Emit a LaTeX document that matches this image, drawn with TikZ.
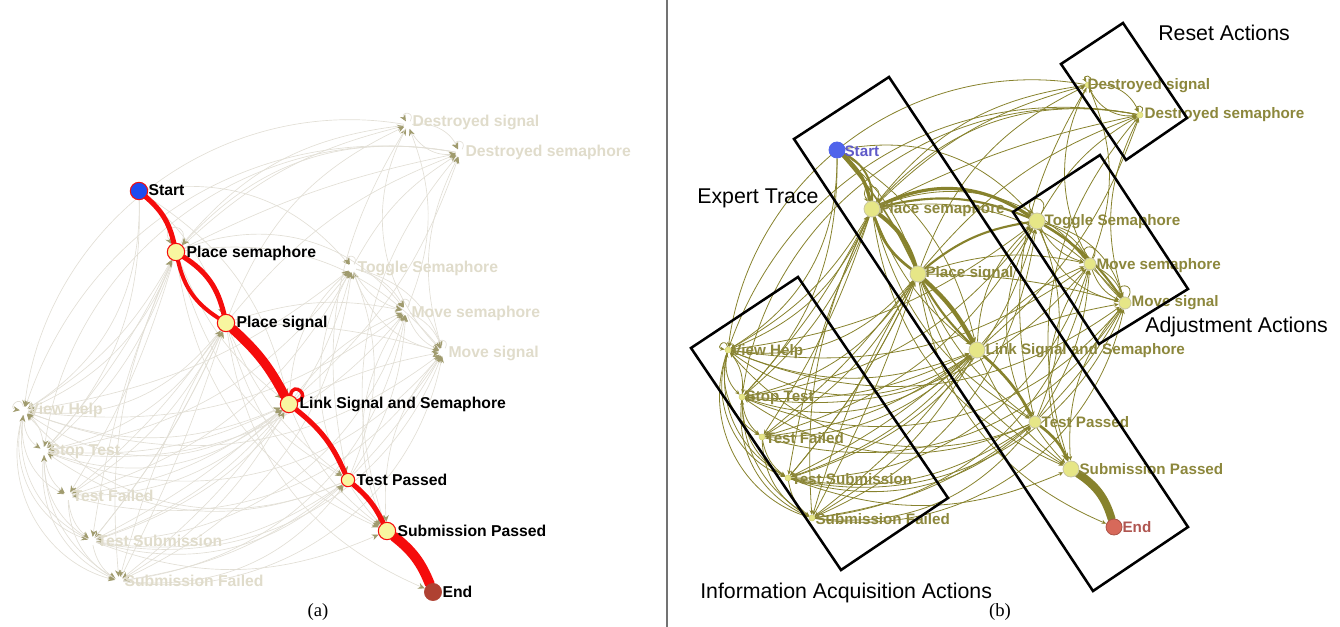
\documentclass[tikz,border=0pt]{standalone}
\usepackage{fontspec}
\setmainfont{Liberation Serif}
\newfontfamily\arialf{Liberation Sans}
\usetikzlibrary{arrows.meta}
\pgfdeclarelayer{bg}
\pgfsetlayers{bg,main}
\definecolor{oliveE}{RGB}{135,130,45}
\definecolor{oliveT}{RGB}{140,135,60}
\definecolor{nodeY}{RGB}{230,230,135}
\definecolor{nodeYL}{RGB}{248,246,160}
\definecolor{fadeE}{RGB}{226,223,214}
\definecolor{fadeT}{RGB}{224,220,203}
\definecolor{fadeA}{RGB}{160,155,110}
\definecolor{redP}{RGB}{245,12,12}
\definecolor{startB}{RGB}{30,75,240}
\definecolor{startBR}{RGB}{80,100,235}
\definecolor{startTR}{RGB}{95,90,200}
\definecolor{endL}{RGB}{175,65,50}
\definecolor{endR}{RGB}{215,105,90}
\definecolor{endTR}{RGB}{175,85,80}
\tikzset{
  ltext/.style={font=\arialf\bfseries\fontsize{11.8}{13}\selectfont, text=black, inner sep=1pt},
  lfade/.style={font=\arialf\bfseries\fontsize{11.8}{13}\selectfont, text=fadeT, inner sep=1pt},
  rtext/.style={font=\arialf\bfseries\fontsize{11.4}{13}\selectfont, text=oliveT, inner sep=1pt},
  gtext/.style={font=\arialf\fontsize{16}{18}\selectfont, text=black, inner sep=0pt},
  captext/.style={font=\fontsize{14}{16}\selectfont, inner sep=0pt},
  lmain/.style={circle, fill=nodeYL, draw=redP, line width=0.8pt, minimum size=13pt, inner sep=0pt},
  lsmall/.style={lmain, minimum size=10pt},
  lstart/.style={lmain, fill=startB},
  lend/.style={circle, fill=endL, draw=endL, minimum size=13pt, inner sep=0pt},
  lfaint/.style={circle, minimum size=6pt, inner sep=0pt},
  rmain/.style={circle, fill=nodeY, draw=oliveE!45, line width=0.6pt, minimum size=12pt, inner sep=0pt},
  rmid/.style={rmain, minimum size=9pt},
  rsmall/.style={circle, fill=nodeY, draw=nodeY!80!oliveE, line width=0.4pt, minimum size=4.5pt, inner sep=0pt},
  rstart/.style={rmain, fill=startBR, draw=startBR},
  rend/.style={rmain, fill=endR, draw=endR!80!black},
  boxst/.style={draw=black, line width=1.9pt, line join=miter},
}
\newcommand\graphedges[1]{%
  \foreach \u/\v/\b in {S/B/10, S/L/15, S/TG/20, S/VH/20, S/ST/15,
    A/L/-10, A/T/-15, A/MM/25, A/MG/20, A/DG/10, A/DM/5, A/VH/15, A/ST/10, A/TF/5, A/TU/-5, A/SF/-10, A/P/-20,
    B/T/-10, B/MM/10, B/MG/5, B/DM/10, B/DG/15, B/VH/20, B/ST/15, B/TF/10, B/TU/5, B/SF/-5, B/P/-15, B/E/-20,
    L/TG/15, L/MM/10, L/MG/5, L/DM/-10, L/VH/25, L/ST/20, L/TF/15, L/TU/10, L/SF/5, L/P/-10,
    T/TG/-15, T/MM/-10, T/MG/-5, T/TU/15, T/ST/20, T/SF/10, T/VH/25,
    MG/P/-15, MM/P/-20, TG/P/-25,
    TG/MM/15, TG/MM/-15, TG/MG/20, TG/MG/-20, MM/MG/15, MM/MG/-15,
    DG/DM/25, DG/DM/-25, TG/DM/10, MM/DG/-15, MG/DM/15, MG/DG/25, DM/P/-20, DG/T/-15,
    DG/VH/-32, DM/ST/-32, DM/A/-20, DG/A/-15, DM/VH/-28,
    VH/ST/-20, VH/TF/-25, VH/TU/-30, VH/SF/-32, ST/TF/-15, ST/TU/-20, ST/SF/-25, TF/TU/-15, TF/SF/-20, TU/SF/-15, ST/VH/-15, TU/VH/25, SF/ST/20,
    VH/TG/-10, VH/MM/-15, VH/MG/-20, ST/TG/-15, ST/MM/-20, ST/MG/-25, TF/MG/-25, TF/TG/-15, TU/TG/-20, TU/MM/-25, TU/MG/-28, SF/MG/-30, SF/MM/-25, SF/TG/-20,
    TU/T/-20, SF/T/-20, TU/P/-15, TF/L/-10, SF/L/-10, VH/L/-15, ST/L/-10, TU/L/-5, ST/A/-5, VH/A/-10, TF/B/-5, TU/B/-5, SF/B/-3}
  {\pgfmathsetmacro\bb{\b*1.45}\draw[gedge] (#1\u) to[bend left=\bb] (#1\v);}%
  \foreach \u/\a/\c in {A/60/120, TG/60/120, MM/60/120, MG/60/120, DG/60/120, DM/60/120, VH/100/170}
  {\draw[gedge] (#1\u) to[out=\a,in=\c,looseness=7] (#1\u);}%
}
\begin{document}
\begin{tikzpicture}[x=0.75pt,y=-0.75pt]
\useasboundingbox (0,0) rectangle (1340,627);
% ---------------- panel (a) ----------------
\node[lstart] (aS) at (139,191) {};
\node[lmain] (aA) at (176,252) {};
\node[lmain] (aB) at (226,323) {};
\node[lmain] (aL) at (289,404) {};
\node[lsmall] (aT) at (348,480) {};
\node[lmain] (aP) at (387,531) {};
\node[lend] (aE) at (433,592) {};
\node[lfaint] (aDG) at (408,125) {};
\node[lfaint] (aDM) at (460,153) {};
\node[lfaint] (aTG) at (352,268) {};
\node[lfaint] (aMM) at (406,311) {};
\node[lfaint] (aMG) at (443,352) {};
\node[lfaint] (aVH) at (24,411) {};
\node[lfaint] (aST) at (44,451) {};
\node[lfaint] (aTF) at (68,496) {};
\node[lfaint] (aTU) at (92,541) {};
\node[lfaint] (aSF) at (119,581) {};
\node[ltext, anchor=west] (aSt) at (147,190) {Start};
\node[ltext, anchor=west] (aAt) at (185,253) {Place semaphore};
\node[ltext, anchor=west] (aBt) at (235,323) {Place signal};
\node[ltext, anchor=west] (aLt) at (298,404) {Link Signal and Semaphore};
\node[ltext, anchor=west] (aTt) at (355,480) {Test Passed};
\node[ltext, anchor=west] (aPt) at (396,531) {Submission Passed};
\node[ltext, anchor=west] (aEt) at (441,592) {End};
\node[lfade, anchor=west] (aDGt) at (411,122) {Destroyed signal};
\node[lfade, anchor=west] (aDMt) at (464,152) {Destroyed semaphore};
\node[lfade, anchor=west] (aTGt) at (356,268) {Toggle Semaphore};
\node[lfade, anchor=west] (aMMt) at (410,313) {Move semaphore};
\node[lfade, anchor=west] (aMGt) at (447,353) {Move signal};
\node[lfade, anchor=west] (aVHt) at (27,410) {View Help};
\node[lfade, anchor=west] (aSTt) at (48,452) {Stop Test};
\node[lfade, anchor=west] (aTFt) at (71,496) {Test Failed};
\node[lfade, anchor=west] (aTUt) at (96,541) {Test Submission};
\node[lfade, anchor=west] (aSFt) at (123,581) {Submission Failed};
\begin{pgfonlayer}{bg}
\tikzset{gedge/.style={draw=fadeE, line width=0.5pt, -{Stealth[length=5pt,width=4.5pt,color=fadeA]}}}
\graphedges{a}
\tikzset{redpath/.style={draw=redP, line cap=round}}
\draw[redpath, line width=3.8pt] (aS) to[bend left=18] (aA);
\draw[redpath, line width=3.8pt] (aA) to[bend left=22] (aB);
\draw[redpath, line width=3pt] (aA) to[bend right=22] (aB);
\draw[redpath, line width=7pt] (aB) to[bend left=10] (aL);
\draw[redpath, line width=2.6pt] (aL) to[out=80,in=20,looseness=4] (aL);
\draw[redpath, line width=3.8pt] (aL) to[bend left=14] (aT);
\draw[redpath, line width=3.8pt] (aT) to[bend left=12] (aP);
\draw[redpath, line width=7.5pt] (aP) to[bend left=15] (aE);
\end{pgfonlayer}
\node[captext] (capa) at (318,612) {(a)};
% divider
\coordinate (dTop) at (667,0);
\coordinate (dBot) at (667,627);
\draw[draw=black!55, line width=0.8pt] (dTop) -- (dBot);
% ---------------- panel (b) ----------------
\node[rstart] (bS) at (837,150) {};
\node[rmain] (bA) at (872,209) {};
\node[rmain] (bB) at (918,274) {};
\node[rmain] (bL) at (977,350) {};
\node[rmid] (bT) at (1035,422) {};
\node[rmain] (bP) at (1071,469) {};
\node[rend] (bE) at (1114,527) {};
\node[rsmall] (bDG) at (1088,85) {};
\node[rsmall] (bDM) at (1140,115) {};
\node[rmain] (bTG) at (1037,221) {};
\node[rmid] (bMM) at (1090,264) {};
\node[rmid] (bMG) at (1125,303) {};
\node[rsmall] (bVH) at (728,350) {};
\node[rsmall] (bST) at (742,397) {};
\node[rsmall] (bTF) at (762,437) {};
\node[rsmall] (bTU) at (788,478) {};
\node[rsmall] (bSF) at (812,518) {};
\node[rtext, anchor=west, text=startTR] (bSt) at (843,151) {Start};
\node[rtext, anchor=west] (bAt) at (878,210) {Place semaphore};
\node[rtext, anchor=west] (bBt) at (924,274) {Place signal};
\node[rtext, anchor=west] (bLt) at (984,351) {Link Signal and Semaphore};
\node[rtext, anchor=west] (bTt) at (1040,422) {Test Passed};
\node[rtext, anchor=west] (bPt) at (1078,469) {Submission Passed};
\node[rtext, anchor=west, text=endTR] (bEt) at (1121,527) {End};
\node[rtext, anchor=west] (bDGt) at (1086,86) {Destroyed signal};
\node[rtext, anchor=west] (bDMt) at (1143,115) {Destroyed semaphore};
\node[rtext, anchor=west] (bTGt) at (1043,222) {Toggle Semaphore};
\node[rtext, anchor=west] (bMMt) at (1095,266) {Move semaphore};
\node[rtext, anchor=west] (bMGt) at (1130,303) {Move signal};
\node[rtext, anchor=west] (bVHt) at (730,352) {View Help};
\node[rtext, anchor=west] (bSTt) at (744,398) {Stop Test};
\node[rtext, anchor=west] (bTFt) at (764,438) {Test Failed};
\node[rtext, anchor=west] (bTUt) at (790,479) {Test Submission};
\node[rtext, anchor=west] (bSFt) at (814,519) {Submission Failed};
\begin{pgfonlayer}{bg}
\tikzset{gedge/.style={draw=oliveE, line width=0.6pt, -{Stealth[length=3.5pt,width=3pt]}}}
\graphedges{b}
\tikzset{thickR/.style={draw=oliveE, line cap=round}}
\draw[thickR, line width=2.6pt] (bS) to[bend left=18] (bA);
\draw[thickR, line width=1.5pt] (bS) to[bend left=32] (bA);
\draw[thickR, line width=1.2pt] (bS) to[bend left=8] (bB);
\draw[thickR, line width=3pt] (bA) to[bend left=18] (bB);
\draw[thickR, line width=2pt] (bA) to[bend right=18] (bB);
\draw[thickR, line width=2.4pt] (bA) to[bend left=30] (bTG);
\draw[thickR, line width=1.6pt] (bA) to[bend left=18] (bTG);
\draw[thickR, line width=1.6pt] (bB) to[bend left=15] (bTG);
\draw[thickR, line width=1.6pt] (bTG) to[bend left=10] (bMM);
\draw[thickR, line width=1.6pt] (bTG) to[bend left=12] (bMG);
\draw[thickR, line width=3.2pt] (bB) to[bend left=10] (bL);
\draw[thickR, line width=1.6pt] (bB) to[bend right=8] (bL);
\draw[thickR, line width=2pt] (bL) to[bend left=10] (bT);
\draw[thickR, line width=2pt, -{Stealth[length=6pt,width=5pt]}] (bT) to[bend left=15] (bP);
\draw[thickR, line width=6pt] (bP) to[bend left=20] (bE);
\end{pgfonlayer}
% group boxes
\draw[boxst] (794,139) -- (889,77) -- (1188,527) -- (1093,591) -- cycle;
\draw[boxst] (1061,64) -- (1123,23) -- (1187,118) -- (1126,160) -- cycle;
\draw[boxst] (1013,212) -- (1100,155) -- (1188,289) -- (1099,344) -- cycle;
\draw[boxst] (691,348) -- (798,277) -- (948,498) -- (841,570) -- cycle;
\node[gtext, anchor=west] (gReset) at (1158,33) {Reset Actions};
\node[gtext, anchor=west] (gExpert) at (697,198) {Expert Trace};
\node[gtext, anchor=west] (gAdj) at (1145,327) {Adjustment Actions};
\node[gtext, anchor=west] (gInfo) at (700,593) {Information Acquisition Actions};
\node[captext] (capb) at (1000,612) {(b)};
\end{tikzpicture}
\end{document}
